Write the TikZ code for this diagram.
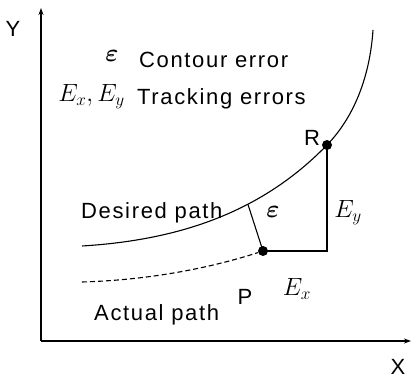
\documentclass[tikz,border=0pt]{standalone}
\usepackage{amsmath}
\usepackage{amssymb}
\usepackage{fontspec}
\setmainfont{Liberation Sans}[LetterSpace=7.5]
\usepackage{tikz}
\usetikzlibrary{arrows.meta}

\begin{document}
\begin{tikzpicture}[x=1pt,y=-1pt,
		lbl/.style={inner sep=0pt,font=\fontsize{22}{24}\selectfont},
		mth/.style={inner sep=0pt,font=\fontsize{23}{24}\selectfont},
		eps/.style={inner sep=0pt,font=\fontsize{28}{30}\selectfont},
		dot/.style={circle,fill=black,inner sep=0pt,minimum size=10pt}]
			\useasboundingbox (0,0) rectangle (413,379);
			% axes
			\coordinate (O) at (41,341);
			\coordinate (ytop) at (41,8);
			\coordinate (xend) at (411,341);
			\draw[line width=1.3pt,-{Stealth[length=7pt,width=5pt]}] (O) -- (ytop);
			\draw[line width=1.3pt,-{Stealth[length=7pt,width=5pt]}] (O) -- (xend);
			\node[lbl] (ylab) at (13,29) {Y};
			\node[lbl] (xlab) at (398,367) {X};
			% desired and actual paths
			\node[dot] (R) at (327,145) {};
			\node[dot] (P) at (263,251) {};
			\coordinate (d0) at (82,246);
			\coordinate (d1) at (373,30);
			\coordinate (a0) at (82,282);
			\coordinate (foot) at (248,204.5);
			\coordinate (C) at (327,251);
			\draw[line width=1.1pt] (d0) .. controls (180,240) and (262,212) .. (R.center)
				.. controls (355,116) and (370,75) .. (d1);
			\draw[line width=1.1pt,dashed,dash pattern=on 5pt off 3pt] (a0) .. controls (150,280) and (210,268) .. (P);
			% errors
			\draw[line width=1.1pt] (P.center) -- (foot);
			\draw[line width=1.1pt] (P.center) -- (C) -- (R.center);
			\node[lbl] (Rlab) at (312,138) {R};
			\node[lbl] (Plab) at (245,297) {P};
			\node[eps] (epsl) at (273,212) {$\boldsymbol{\varepsilon}$};
			\node[mth] (Ey) at (348,213) {$E_y$};
			\node[mth] (Ex) at (297,289) {$E_x$};
			\node[lbl,anchor=west] (des) at (81,213) {Desired path};
			\node[lbl,anchor=west] (act) at (94,315) {Actual path};
			% legend
			\node[eps] (leps) at (112,56) {$\boldsymbol{\varepsilon}$};
			\node[lbl,anchor=west] (lcont) at (139,60) {Contour error};
			\node[mth,anchor=east] (lexy) at (125,97) {$E_x, E_y$};
			\node[lbl,anchor=west] (ltrack) at (137,99) {Tracking errors};
		\end{tikzpicture}
\end{document}
